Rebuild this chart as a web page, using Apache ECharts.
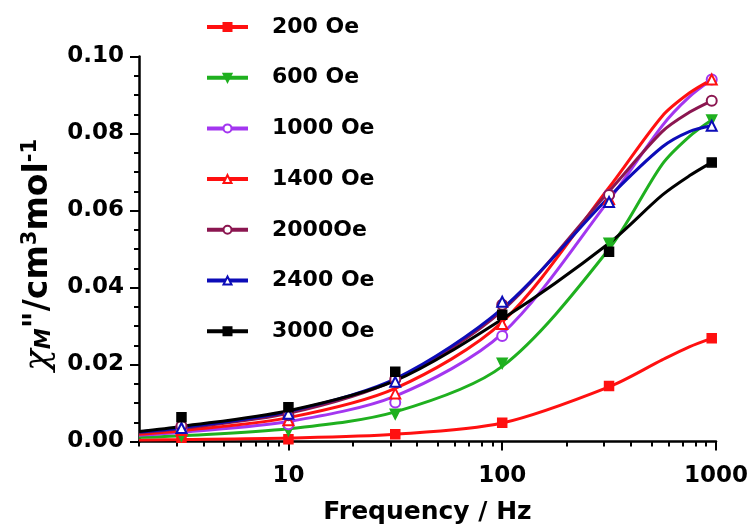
<!DOCTYPE html>
<html>
<head>
<meta charset="utf-8">
<script src="https://cdn.jsdelivr.net/npm/echarts@6/dist/echarts.min.js"></script>
<style>html,body{margin:0;padding:0;background:#fff}#c{width:753px;height:532px}</style>
</head>
<body>
<div id="c"></div>
<script>
// ---- data ----
const fieldNames = ['200 Oe', '600 Oe', '1000 Oe', '1400 Oe', '2000Oe', '2400 Oe', '3000 Oe'];
const ptFreq  = [3.16, 10, 31.6, 100, 316, 955];
const fitFreq = [2, 3.16, 10, 31.6, 100, 316, 560, 750, 955];

const pts200  = [0.0010, 0.0006, 0.0019, 0.0049, 0.0144, 0.0268];
const pts600  = [0.0014, 0.0028, 0.0071, 0.0203, 0.0515, 0.0835];
const pts1000 = [0.0036, 0.0045, 0.0101, 0.0274, 0.0640, 0.0940];
const pts1400 = [0.0030, 0.0055, 0.0125, 0.0305, 0.0630, 0.0940];
const pts2000 = [0.0040, 0.0068, 0.0162, 0.0355, 0.0640, 0.0885];
const pts2400 = [0.0035, 0.0072, 0.0155, 0.0363, 0.0622, 0.0820];
const pts3000 = [0.0063, 0.0089, 0.0181, 0.0329, 0.0493, 0.0725];

const fit200  = [0.0004, 0.0005, 0.0009, 0.0019, 0.0048, 0.0142, 0.0212, 0.0246, 0.0268];
const fit600  = [0.0011, 0.0015, 0.0033, 0.0077, 0.0195, 0.0500, 0.0720, 0.0792, 0.0835];
const fit1000 = [0.0016, 0.0024, 0.0052, 0.0118, 0.0280, 0.0627, 0.0820, 0.0895, 0.0940];
const fit1400 = [0.0019, 0.0028, 0.0062, 0.0138, 0.0310, 0.0660, 0.0845, 0.0905, 0.0940];
const fit2000 = [0.0023, 0.0034, 0.0073, 0.0160, 0.0340, 0.0650, 0.0805, 0.0855, 0.0885];
const fit2400 = [0.0025, 0.0036, 0.0078, 0.0163, 0.0345, 0.0635, 0.0765, 0.0805, 0.0820];
const fit3000 = [0.0026, 0.0039, 0.0080, 0.0158, 0.0318, 0.0515, 0.0640, 0.0690, 0.0725];

const xMajorTicks = [10, 100, 1000];
const xMinorTicks = [2,3,4,5,6,7,8,9,20,30,40,50,60,70,80,90,200,300,400,500,600,700,800,900];

// ---- styles ----
const colors  = ['#ff1010', '#1fb01f', '#a336f0', '#ff1010', '#8b1650', '#0c0cb8', '#000000'];
const symbols = ['rect', 'triangle', 'emptyCircle', 'emptyTriangle', 'emptyCircle', 'emptyTriangle', 'rect'];
const rotates = [0, 180, 0, 0, 0, 0, 0];
const sizes   = [9, 10, 10, 10, 10, 10, 9];
const allPts = [pts200, pts600, pts1000, pts1400, pts2000, pts2400, pts3000];
const allFit = [fit200, fit600, fit1000, fit1400, fit2000, fit2400, fit3000];

const FONT = 'DejaVu Sans';
const series = [];
fieldNames.forEach((n, i) => {
  series.push({
    name: n, type: 'line', smooth: 0.3, showSymbol: false,
    symbol: symbols[i], symbolRotate: rotates[i], symbolSize: 9,
    data: fitFreq.map((f, k) => [f, allFit[i][k]]),
    lineStyle: { color: colors[i], width: 3 },
    itemStyle: { color: colors[i], borderColor: colors[i], borderWidth: 1.5 },
    z: 2, silent: true
  });
});
fieldNames.forEach((n, i) => {
  series.push({
    name: n + ' data', type: 'scatter',
    symbol: symbols[i], symbolRotate: rotates[i], symbolSize: sizes[i],
    data: ptFreq.map((f, k) => [f, allPts[i][k]]),
    itemStyle: { color: colors[i], borderColor: colors[i], borderWidth: 1.5, opacity: 1 },
    z: 3, silent: true
  });
});

const chart = echarts.init(document.getElementById('c'), null, { renderer: 'canvas' });
chart.setOption({
  animation: false,
  backgroundColor: '#ffffff',
  grid: { left: 139, right: 37, top: 56.5, bottom: 90.5, containLabel: false },
  legend: {
    data: fieldNames, orient: 'vertical', left: 205, top: 15, padding: 0,
    itemWidth: 41, itemHeight: 10, itemGap: 26.7,
    lineStyle: { width: 4 },
    textStyle: { fontFamily: FONT, fontWeight: 'bold', fontSize: 22, color: '#000', lineHeight: 24, padding: [0, 0, 0, 19] },
    selectedMode: false
  },
  xAxis: [{
    type: 'log', logBase: 10, min: 2, max: 1000,
    name: 'Frequency / Hz', nameLocation: 'middle', nameGap: 58,
    nameTextStyle: { fontFamily: FONT, fontWeight: 'bold', fontSize: 25, color: '#000' },
    axisLine: { lineStyle: { color: '#000', width: 2.5 } },
    axisTick: { customValues: xMinorTicks, length: 5, lineStyle: { color: '#000', width: 2 } },
    axisLabel: { customValues: xMajorTicks, margin: 23, fontFamily: FONT, fontWeight: 'bold', fontSize: 23, color: '#000',
                 formatter: v => String(Math.round(v)) },
    splitLine: { show: false }
  }, {
    type: 'log', logBase: 10, min: 2, max: 1000, position: 'bottom',
    axisLine: { show: false },
    axisTick: { customValues: xMajorTicks, length: 9, lineStyle: { color: '#000', width: 2 } },
    axisLabel: { show: false }, splitLine: { show: false }
  }],
  yAxis: {
    type: 'value', min: 0, max: 0.1, interval: 0.02,
    name: '{chi|χ}{sub|M}{t|"/cm}{sup|3}{t|mol}{sup|-1}',
    nameLocation: 'middle', nameRotate: 90, nameGap: 80,
    nameTextStyle: {
      padding: [0, 12, 0, 0],
      rich: {
        chi: { fontFamily: 'DejaVu Serif', fontStyle: 'italic', fontSize: 36, color: '#000' },
        sub: { fontFamily: FONT, fontStyle: 'italic', fontWeight: 'bold', fontSize: 21, color: '#000', padding: [12, 0, 0, 0] },
        t:   { fontFamily: FONT, fontWeight: 'bold', fontSize: 33, color: '#000' },
        sup: { fontFamily: FONT, fontWeight: 'bold', fontSize: 21, color: '#000', padding: [0, 0, 15, 0] }
      }
    },
    axisLine: { show: true, lineStyle: { color: '#000', width: 2.5 } },
    axisTick: { show: true, length: 9, lineStyle: { color: '#000', width: 2 } },
    minorTick: { show: true, splitNumber: 4, length: 5, lineStyle: { color: '#000', width: 2 } },
    axisLabel: { margin: 15, fontFamily: FONT, fontWeight: 'bold', fontSize: 23, color: '#000',
                 formatter: v => v.toFixed(2) },
    splitLine: { show: false }
  },
  series: series
});
</script>
</body>
</html>
